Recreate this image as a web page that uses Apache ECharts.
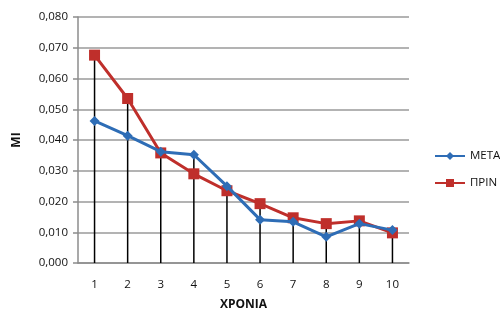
<!DOCTYPE html>
<html>
<head>
<meta charset="utf-8">
<script src="https://cdn.jsdelivr.net/npm/echarts@6/dist/echarts.min.js"></script>
<style>
  html, body { margin: 0; padding: 0; background: #fff; }
  #chart { width: 500px; height: 320px; }
</style>
</head>
<body>
<div id="chart"></div>
<script>
// Years on the category axis
const years = ['1', '2', '3', '4', '5', '6', '7', '8', '9', '10'];
// MI after (ΜΕΤΑ) and before (ΠΡΙΝ)
const meta = [0.0462, 0.0414, 0.0362, 0.0352, 0.0250, 0.0141, 0.0134, 0.0085, 0.0128, 0.0107];
const prin = [0.0676, 0.0535, 0.0358, 0.0290, 0.0235, 0.0193, 0.0147, 0.0128, 0.0137, 0.0098];
// Value axis ticks
const yTicks = [0, 0.01, 0.02, 0.03, 0.04, 0.05, 0.06, 0.07, 0.08];

// Drop lines run from the higher of the two points down to the axis
const dropLines = years.map((_, i) => Math.max(meta[i], prin[i]));

const font = 'Open Sans';
const chart = echarts.init(document.getElementById('chart'));
chart.setOption({
  animation: false,
  textStyle: { fontFamily: font },
  grid: { left: 78, right: 91, top: 17, bottom: 57 },
  legend: {
    orient: 'vertical',
    left: 429,
    top: 145,
    itemGap: 15,
    itemWidth: 30,
    itemHeight: 10,
    textStyle: { fontFamily: font, fontSize: 11.5, color: '#111' },
    data: ['ΜΕΤΑ', 'ΠΡΙΝ']
  },
  xAxis: {
    type: 'category',
    data: years,
    boundaryGap: true,
    name: 'ΧΡΟΝΙΑ',
    nameLocation: 'middle',
    nameGap: 36,
    nameTextStyle: { fontFamily: font, fontWeight: 'bold', fontSize: 12, color: '#111' },
    axisLine: { lineStyle: { color: '#8c8c8c', width: 1.5 } },
    axisTick: { show: false },
    axisLabel: { margin: 16, fontSize: 11.5, color: '#111', fontFamily: font }
  },
  yAxis: {
    type: 'value',
    min: yTicks[0],
    max: yTicks[yTicks.length - 1],
    interval: yTicks[1] - yTicks[0],
    name: 'MI',
    nameLocation: 'middle',
    nameGap: 55,
    nameRotate: 90,
    nameTextStyle: { fontFamily: font, fontWeight: 'bold', fontSize: 12, color: '#111' },
    axisLine: { show: true, lineStyle: { color: '#8c8c8c', width: 1.5 } },
    axisTick: { show: true, length: 5, lineStyle: { color: '#8c8c8c', width: 1.5 } },
    axisLabel: {
      margin: 10,
      fontSize: 11.5,
      color: '#111',
      fontFamily: font,
      formatter: v => v.toFixed(3).replace('.', ',')
    },
    splitLine: { lineStyle: { color: '#9a9a9a', width: 1.5 } }
  },
  series: [
    {
      name: 'drop',
      type: 'bar',
      data: dropLines,
      barWidth: 1.5,
      itemStyle: { color: '#000' },
      z: 1,
      silent: true,
      legendHoverLink: false
    },
    {
      name: 'ΜΕΤΑ',
      type: 'line',
      data: meta,
      symbol: 'diamond',
      symbolSize: 10,
      lineStyle: { color: '#2e6db6', width: 3 },
      itemStyle: { color: '#2e6db6' },
      z: 3
    },
    {
      name: 'ΠΡΙΝ',
      type: 'line',
      data: prin,
      symbol: 'rect',
      symbolSize: 11,
      lineStyle: { color: '#bf2f2b', width: 3 },
      itemStyle: { color: '#bf2f2b' },
      z: 2
    }
  ]
});
</script>
</body>
</html>
